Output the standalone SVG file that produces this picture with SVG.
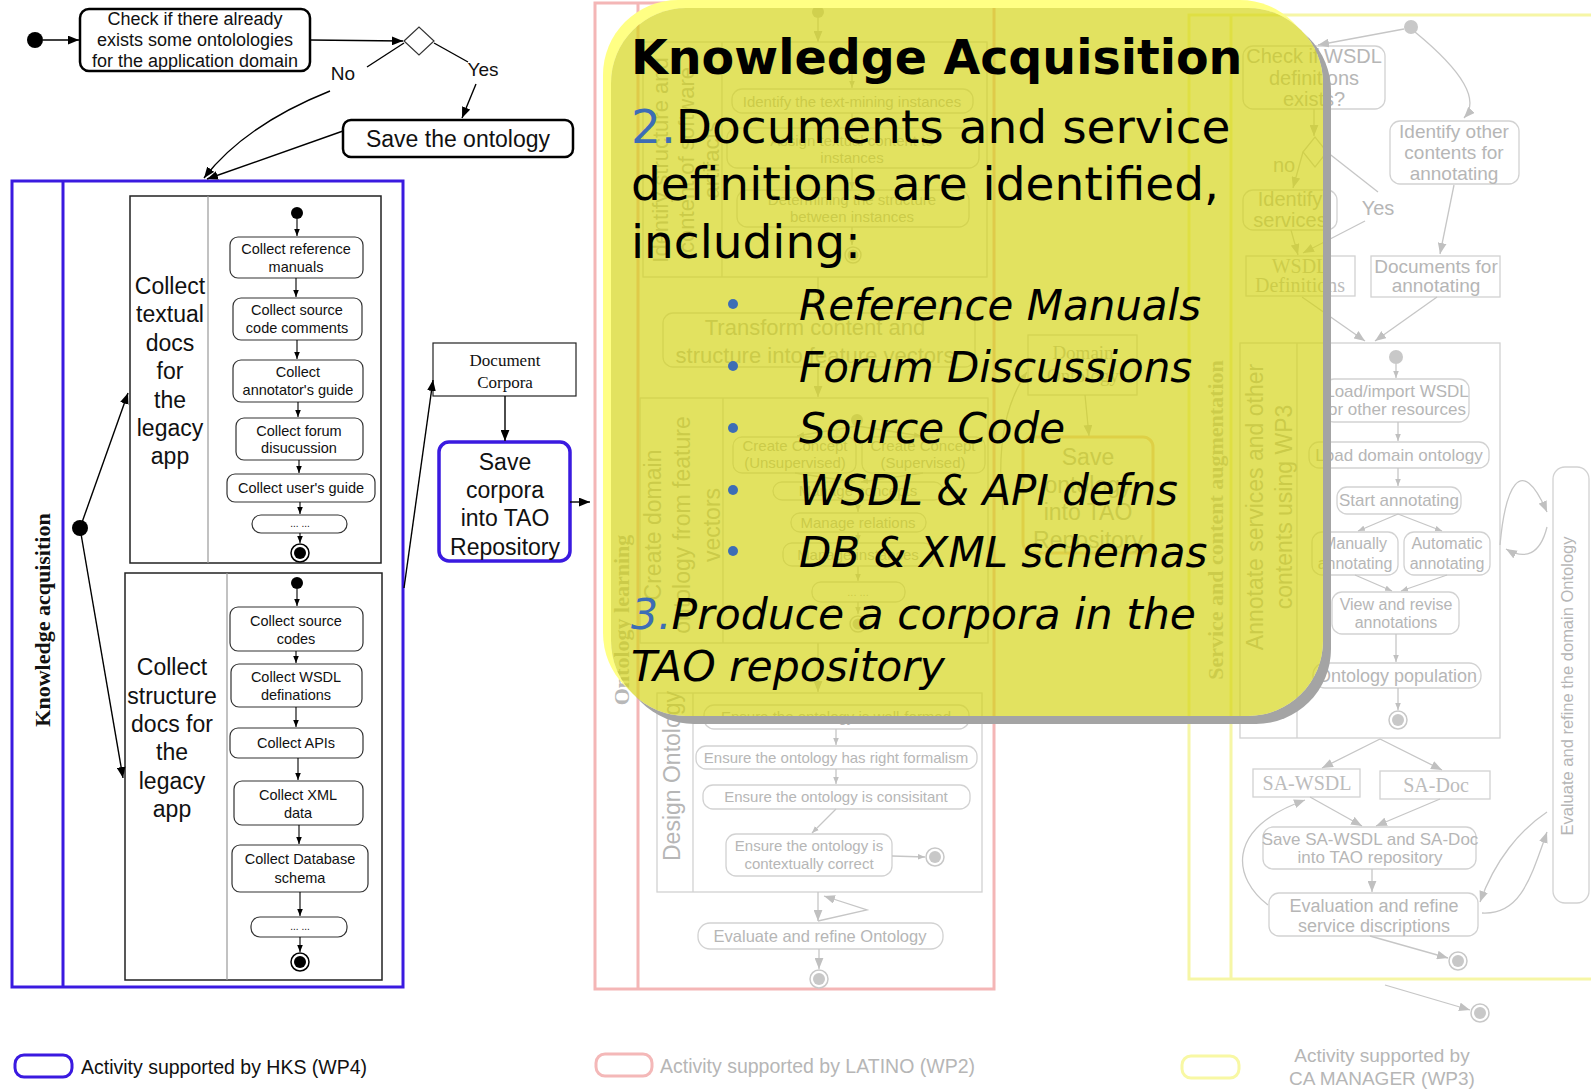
<svg xmlns="http://www.w3.org/2000/svg" width="1591" height="1089" viewBox="0 0 1591 1089">
<defs>
<style>
.t{font-family:"Liberation Sans",Arial,sans-serif;fill:#111}
.ser{font-family:"Liberation Serif","Times New Roman",serif}
.c{text-anchor:middle}
.box{fill:#fff;stroke:#333;stroke-width:1.2}
.ln{stroke:#000;stroke-width:1.4;fill:none}
.fx{font-family:"Liberation Sans",Arial,sans-serif;fill:#b6b6b6}
.fb{fill:none;stroke:#d2d2d2;stroke-width:1.3}
.lg{stroke:#c6c6c6;stroke-width:1.3;fill:none}
.ct{font-family:"DejaVu Sans",Verdana,sans-serif;fill:#000}
.blu{fill:#3d6db5}
</style>
<marker id="a" viewBox="0 0 10 8" markerWidth="11" markerHeight="9" refX="10" refY="4" orient="auto" markerUnits="userSpaceOnUse"><path d="M0,0 L10,4 L0,8 z" fill="#000"/></marker>
<marker id="as" viewBox="0 0 10 8" markerWidth="7" markerHeight="6" refX="10" refY="4" orient="auto" markerUnits="userSpaceOnUse"><path d="M0,0 L10,4 L0,8 z" fill="#000"/></marker>
<marker id="ag" viewBox="0 0 10 8" markerWidth="11" markerHeight="9" refX="10" refY="4" orient="auto" markerUnits="userSpaceOnUse"><path d="M0,0 L10,4 L0,8 z" fill="#c0c0c0"/></marker>
<marker id="ags" viewBox="0 0 10 8" markerWidth="7" markerHeight="6" refX="10" refY="4" orient="auto" markerUnits="userSpaceOnUse"><path d="M0,0 L10,4 L0,8 z" fill="#c0c0c0"/></marker>
<mask id="cm"><rect width="1591" height="1089" fill="#fff"/><path d="M686,8 H1248 A75 75 0 0 1 1323,83 V641 A75 75 0 0 1 1248,716 H686 A75 75 0 0 1 611,641 V83 A75 75 0 0 1 686,8 Z" fill="#000"/></mask>
</defs>
<rect width="1591" height="1089" fill="#fff"/>

<!-- ===== Left (HKS) diagram ===== -->
<g id="start1"><circle cx="35" cy="40" r="8" fill="#000"/></g>
<g id="check"><rect x="80" y="9" width="230" height="62" rx="9" fill="#fff" stroke="#000" stroke-width="2.5"/>
<text class="t c" font-size="18" x="195" y="25">Check if there already</text>
<text class="t c" font-size="18" x="195" y="46">exists some ontolologies</text>
<text class="t c" font-size="18" x="195" y="67">for the application domain</text></g>
<g id="decision1"><polygon points="404,41 419,27 434,41 419,55" fill="#fff" stroke="#333" stroke-width="1.2"/></g>
<g id="saveOnt"><rect x="343" y="120" width="230" height="37" rx="8" fill="#fff" stroke="#000" stroke-width="2.5"/>
<text class="t c" font-size="23" x="458" y="147">Save the ontology</text></g>

<g id="ka">
<rect x="12" y="181" width="391" height="806" fill="none" stroke="#3a1ae0" stroke-width="3"/>
<line x1="63" y1="181" x2="63" y2="987" stroke="#3a1ae0" stroke-width="3"/>
<text class="ser c" font-size="22" font-weight="bold" fill="#111" transform="translate(50,620) rotate(-90)">Knowledge acquisition</text>
</g>
<g id="fork1"><circle cx="80" cy="528" r="8" fill="#000"/></g>

<g id="lane1">
<rect x="130" y="196" width="251" height="367" fill="none" stroke="#222" stroke-width="1.5"/>
<line x1="208" y1="196" x2="208" y2="563" stroke="#999" stroke-width="1.2"/>
<text class="t c" font-size="23" x="170" y="294">Collect</text>
<text class="t c" font-size="23" x="170" y="322">textual</text>
<text class="t c" font-size="23" x="170" y="351">docs</text>
<text class="t c" font-size="23" x="170" y="379">for</text>
<text class="t c" font-size="23" x="170" y="408">the</text>
<text class="t c" font-size="23" x="170" y="436">legacy</text>
<text class="t c" font-size="23" x="170" y="464">app</text>
</g>
<g id="l1start"><circle cx="297" cy="213" r="6" fill="#000"/></g>
<g id="l1b1"><rect class="box" x="230" y="237" width="133" height="41" rx="8"/><text class="t c" font-size="14.5" x="296" y="254">Collect reference</text><text class="t c" font-size="14.5" x="296" y="272">manuals</text></g>
<g id="l1b2"><rect class="box" x="233" y="298" width="129" height="42" rx="8"/><text class="t c" font-size="14.5" x="297" y="315">Collect source</text><text class="t c" font-size="14.5" x="297" y="333">code comments</text></g>
<g id="l1b3"><rect class="box" x="233" y="360" width="130" height="42" rx="8"/><text class="t c" font-size="14.5" x="298" y="377">Collect</text><text class="t c" font-size="14.5" x="298" y="395">annotator's guide</text></g>
<g id="l1b4"><rect class="box" x="236" y="418" width="127" height="42" rx="8"/><text class="t c" font-size="14.5" x="299" y="436">Collect forum</text><text class="t c" font-size="14.5" x="299" y="453">disucussion</text></g>
<g id="l1b5"><rect class="box" x="227" y="474" width="148" height="28" rx="8"/><text class="t c" font-size="14.5" x="301" y="493">Collect user's guide</text></g>
<g id="l1b6"><rect class="box" x="252" y="515" width="95" height="18" rx="9"/><text class="t c" font-size="10" x="300" y="527">... ...</text></g>
<g id="l1end"><circle cx="300" cy="553" r="9" fill="#fff" stroke="#000" stroke-width="1.5"/><circle cx="300" cy="553" r="6" fill="#000"/></g>

<g id="lane2">
<rect x="125" y="573" width="257" height="407" fill="none" stroke="#222" stroke-width="1.5"/>
<line x1="227" y1="573" x2="227" y2="980" stroke="#999" stroke-width="1.2"/>
<text class="t c" font-size="23" x="172" y="675">Collect</text>
<text class="t c" font-size="23" x="172" y="704">structure</text>
<text class="t c" font-size="23" x="172" y="732">docs for</text>
<text class="t c" font-size="23" x="172" y="760">the</text>
<text class="t c" font-size="23" x="172" y="789">legacy</text>
<text class="t c" font-size="23" x="172" y="817">app</text>
</g>
<g id="l2start"><circle cx="297" cy="583" r="6" fill="#000"/></g>
<g id="l2b1"><rect class="box" x="230" y="607" width="133" height="44" rx="8"/><text class="t c" font-size="14.5" x="296" y="626">Collect source</text><text class="t c" font-size="14.5" x="296" y="644">codes</text></g>
<g id="l2b2"><rect class="box" x="231" y="664" width="131" height="43" rx="8"/><text class="t c" font-size="14.5" x="296" y="682">Collect WSDL</text><text class="t c" font-size="14.5" x="296" y="700">definations</text></g>
<g id="l2b3"><rect class="box" x="230" y="728" width="133" height="30" rx="8"/><text class="t c" font-size="14.5" x="296" y="748">Collect APIs</text></g>
<g id="l2b4"><rect class="box" x="234" y="781" width="129" height="44" rx="8"/><text class="t c" font-size="14.5" x="298" y="800">Collect XML</text><text class="t c" font-size="14.5" x="298" y="818">data</text></g>
<g id="l2b5"><rect class="box" x="232" y="845" width="136" height="47" rx="8"/><text class="t c" font-size="14.5" x="300" y="864">Collect Database</text><text class="t c" font-size="14.5" x="300" y="883">schema</text></g>
<g id="l2b6"><rect class="box" x="251" y="917" width="96" height="20" rx="9"/><text class="t c" font-size="10" x="300" y="930">... ...</text></g>
<g id="l2end"><circle cx="300" cy="962" r="9" fill="#fff" stroke="#000" stroke-width="1.5"/><circle cx="300" cy="962" r="6" fill="#000"/></g>

<g id="docCorpora"><rect x="433" y="343" width="143" height="53" fill="#fff" stroke="#222" stroke-width="1.2"/>
<text class="ser c" font-size="17" fill="#111" x="505" y="366">Document</text><text class="ser c" font-size="17" fill="#111" x="505" y="388">Corpora</text></g>
<g id="saveCorpora"><rect x="439" y="442" width="131" height="119" rx="10" fill="#fff" stroke="#3a1ae0" stroke-width="3.5"/>
<text class="t c" font-size="23" x="505" y="470">Save</text><text class="t c" font-size="23" x="505" y="498">corpora</text><text class="t c" font-size="23" x="505" y="526">into TAO</text><text class="t c" font-size="23" x="505" y="555">Repository</text></g>

<!-- ===== Middle (LATINO) faded diagram ===== -->
<g id="latino">
<rect x="595" y="3" width="399" height="986" fill="none" stroke="#f4b6b6" stroke-width="3"/>
<line x1="638" y1="3" x2="638" y2="989" stroke="#f4b6b6" stroke-width="3"/>
<text class="ser c" font-size="22" font-weight="bold" fill="#b8b8b8" transform="translate(629,620) rotate(-90)">Ontology learning</text>
</g>
<g id="p_lane1">
<rect class="fb" x="643" y="42" width="344" height="235"/>
<line class="fb" x1="722" y1="42" x2="722" y2="277"/>
<text class="fx c" font-size="22" transform="translate(668,160) rotate(-90)">Identify structure and</text>
<text class="fx c" font-size="22" transform="translate(694,160) rotate(-90)">content of software</text>
<text class="fx c" font-size="22" transform="translate(719,160) rotate(-90)">artifacts</text>
</g>
<g id="p_start"><circle cx="818" cy="12" r="6" fill="#c8c8c8"/></g>
<g id="p_b1"><rect class="fb" x="732" y="89" width="241" height="24" rx="10"/><text class="fx c" font-size="15" x="852" y="107">Identify the text-mining instances</text></g>
<g id="p_b2"><rect class="fb" x="727" y="128" width="252" height="40" rx="10"/><text class="fx c" font-size="15" x="852" y="146">Assign textual content to</text><text class="fx c" font-size="15" x="852" y="163">instances</text></g>
<g id="p_b3"><rect class="fb" x="737" y="190" width="232" height="37" rx="10"/><text class="fx c" font-size="15" x="852" y="205">Determining the structure</text><text class="fx c" font-size="15" x="852" y="222">between instances</text></g>
<g id="p_end1"><circle cx="853" cy="255" r="8" fill="#fff" stroke="#c8c8c8" stroke-width="1.5"/><circle cx="853" cy="255" r="5.5" fill="#c8c8c8"/></g>
<g id="p_transform"><rect class="fb" x="663" y="313" width="312" height="54" rx="10"/><text class="fx c" font-size="22" x="815" y="335">Transform content and</text><text class="fx c" font-size="22" x="815" y="363">structure into feature vectors</text></g>
<g id="p_lane2">
<rect class="fb" x="640" y="398" width="348" height="245"/>
<line class="fb" x1="723" y1="398" x2="723" y2="643"/>
<text class="fx c" font-size="23" transform="translate(661,525) rotate(-90)">Create domain</text>
<text class="fx c" font-size="23" transform="translate(690,525) rotate(-90)">ontology from feature</text>
<text class="fx c" font-size="23" transform="translate(720,525) rotate(-90)">vectors</text>
</g>
<g id="p_start2"><circle cx="857" cy="420" r="6" fill="#c8c8c8"/></g>
<g id="p_cu"><rect class="fb" x="733" y="437" width="123" height="36" rx="9"/><text class="fx c" font-size="15" x="795" y="451">Create Concept</text><text class="fx c" font-size="15" x="795" y="468">(Unsupervised)</text></g>
<g id="p_cs"><rect class="fb" x="862" y="437" width="123" height="36" rx="9"/><text class="fx c" font-size="15" x="923" y="451">Create Concept</text><text class="fx c" font-size="15" x="923" y="468">(Supervised)</text></g>
<g id="p_mc"><rect class="fb" x="773" y="482" width="170" height="18" rx="9"/><text class="fx c" font-size="15" x="858" y="496">Manage concepts</text></g>
<g id="p_mr"><rect class="fb" x="791" y="513" width="135" height="19" rx="9"/><text class="fx c" font-size="15" x="858" y="528">Manage relations</text></g>
<g id="p_mi"><rect class="fb" x="783" y="543" width="150" height="23" rx="9"/><text class="fx c" font-size="15" x="858" y="560">Manage instances</text></g>
<g id="p_dots"><rect class="fb" x="812" y="582" width="93" height="20" rx="9"/><text class="fx c" font-size="11" x="858" y="596">... ...</text></g>
<g id="p_end2"><circle cx="858" cy="624" r="8" fill="#fff" stroke="#c8c8c8" stroke-width="1.5"/><circle cx="858" cy="624" r="5.5" fill="#c8c8c8"/></g>
<g id="p_lane3">
<rect class="fb" x="657" y="693" width="325" height="199"/>
<line class="fb" x1="693" y1="693" x2="693" y2="892"/>
<text class="fx c" font-size="23" transform="translate(680,776) rotate(-90)">Design Ontology</text>
</g>
<g id="p_e1"><rect class="fb" x="704" y="705" width="265" height="24" rx="10"/><text class="fx c" font-size="15" x="836" y="722">Ensure the ontology is well-formed</text></g>
<g id="p_e2"><rect class="fb" x="696" y="746" width="281" height="23" rx="10"/><text class="fx c" font-size="15" x="836" y="763">Ensure the ontology has right formalism</text></g>
<g id="p_e3"><rect class="fb" x="703" y="785" width="267" height="24" rx="10"/><text class="fx c" font-size="15" x="836" y="802">Ensure the ontology is consisitant</text></g>
<g id="p_e4"><rect class="fb" x="726" y="834" width="166" height="42" rx="10"/><text class="fx c" font-size="15" x="809" y="851">Ensure the ontology is</text><text class="fx c" font-size="15" x="809" y="869">contextually correct</text></g>
<g id="p_end3"><circle cx="935" cy="857" r="9" fill="#fff" stroke="#c8c8c8" stroke-width="1.5"/><circle cx="935" cy="857" r="6" fill="#c8c8c8"/></g>
<g id="p_eval"><rect class="fb" x="698" y="923" width="245" height="26" rx="12"/><text class="fx c" font-size="16.5" x="820" y="942">Evaluate and refine Ontology</text></g>
<g id="p_end4"><circle cx="819" cy="979" r="9" fill="#fff" stroke="#c8c8c8" stroke-width="1.5"/><circle cx="819" cy="979" r="6" fill="#c8c8c8"/></g>
<g id="p_domain"><rect class="fb" x="1028" y="335" width="109" height="60"/><text class="ser c" font-size="19" fill="#b8b8b8" x="1083" y="359">Domain</text><text class="ser c" font-size="19" fill="#b8b8b8" x="1083" y="382">Ontology</text></g>
<g id="p_saveOnt"><rect x="1023" y="437" width="130" height="116" rx="10" fill="none" stroke="#f3c8ae" stroke-width="3"/>
<text class="fx c" font-size="23" x="1088" y="465">Save</text><text class="fx c" font-size="23" x="1088" y="493">ontology</text><text class="fx c" font-size="23" x="1088" y="520">into TAO</text><text class="fx c" font-size="23" x="1088" y="548">Repository</text></g>

<!-- ===== Right (CA MANAGER) faded diagram ===== -->
<g id="camanager">
<rect x="1189" y="15" width="430" height="964" fill="none" stroke="#f6f6a6" stroke-width="3"/>
<line x1="1231" y1="15" x2="1231" y2="979" stroke="#f6f6a6" stroke-width="3"/>
<text class="ser c" font-size="22" font-weight="bold" fill="#bcbcbc" transform="translate(1223,520) rotate(-90)">Service and content augmentation</text>
</g>
<g id="y_start"><circle cx="1411" cy="27" r="7" fill="#c8c8c8"/></g>
<g id="y_check"><rect class="fb" x="1243" y="46" width="142" height="63" rx="10"/><text class="fx c" font-size="20" x="1314" y="63">Check if WSDL</text><text class="fx c" font-size="20" x="1314" y="85">definitions</text><text class="fx c" font-size="20" x="1314" y="106">exists?</text></g>
<g id="y_dec"><polygon points="1303,152 1315,137 1327,152 1315,167" fill="none" stroke="#c8c8c8" stroke-width="1.3"/></g>
<g id="y_other"><rect class="fb" x="1390" y="121" width="129" height="63" rx="10"/><text class="fx c" font-size="19" x="1454" y="138">Identify other</text><text class="fx c" font-size="19" x="1454" y="159">contents for</text><text class="fx c" font-size="19" x="1454" y="180">annotating</text></g>
<g id="y_idserv"><rect class="fb" x="1243" y="190" width="94" height="40" rx="10"/><text class="fx c" font-size="20" x="1290" y="206">Identify</text><text class="fx c" font-size="20" x="1290" y="227">services</text></g>
<g id="y_wsdl"><rect class="fb" x="1246" y="256" width="109" height="40"/><text class="ser c" font-size="20" fill="#bcbcbc" x="1300" y="273">WSDL</text><text class="ser c" font-size="20" fill="#bcbcbc" x="1300" y="292">Definitions</text></g>
<g id="y_docs"><rect class="fb" x="1371" y="256" width="129" height="41"/><text class="fx c" font-size="19" x="1436" y="273">Documents for</text><text class="fx c" font-size="19" x="1436" y="292">annotating</text></g>
<g id="y_lane">
<rect class="fb" x="1240" y="343" width="260" height="395"/>
<line class="fb" x1="1297" y1="343" x2="1297" y2="738"/>
<text class="fx c" font-size="23" transform="translate(1263,507) rotate(-90)">Annotate services and other</text>
<text class="fx c" font-size="23" transform="translate(1292,507) rotate(-90)">contents using WP3</text>
</g>
<g id="y_start2"><circle cx="1396" cy="357" r="7" fill="#c8c8c8"/></g>
<g id="y_load"><rect class="fb" x="1324" y="379" width="145" height="43" rx="10"/><text class="fx c" font-size="17" x="1397" y="397">Load/import WSDL</text><text class="fx c" font-size="17" x="1397" y="415">or other resources</text></g>
<g id="y_lod"><rect class="fb" x="1309" y="442" width="180" height="26" rx="10"/><text class="fx c" font-size="17" x="1399" y="461">Load domain ontology</text></g>
<g id="y_sa"><rect class="fb" x="1337" y="487" width="124" height="27" rx="10"/><text class="fx c" font-size="17" x="1399" y="506">Start annotating</text></g>
<g id="y_man"><rect class="fb" x="1312" y="532" width="86" height="43" rx="10"/><text class="fx c" font-size="16" x="1355" y="549">Manually</text><text class="fx c" font-size="16" x="1355" y="569">annotating</text></g>
<g id="y_auto"><rect class="fb" x="1404" y="532" width="86" height="43" rx="10"/><text class="fx c" font-size="16" x="1447" y="549">Automatic</text><text class="fx c" font-size="16" x="1447" y="569">annotating</text></g>
<g id="y_view"><rect class="fb" x="1332" y="592" width="127" height="42" rx="10"/><text class="fx c" font-size="16" x="1396" y="610">View and revise</text><text class="fx c" font-size="16" x="1396" y="628">annotations</text></g>
<g id="y_pop"><rect class="fb" x="1313" y="663" width="168" height="25" rx="12"/><text class="fx c" font-size="18" x="1397" y="682">Ontology population</text></g>
<g id="y_end1"><circle cx="1398" cy="720" r="9" fill="#fff" stroke="#c8c8c8" stroke-width="1.5"/><circle cx="1398" cy="720" r="6" fill="#c8c8c8"/></g>
<g id="y_sawsdl"><rect class="fb" x="1253" y="769" width="107" height="28"/><text class="ser c" font-size="20" fill="#bcbcbc" x="1307" y="790">SA-WSDL</text></g>
<g id="y_sadoc"><rect class="fb" x="1380" y="771" width="110" height="28"/><text class="ser c" font-size="20" fill="#bcbcbc" x="1436" y="792">SA-Doc</text></g>
<g id="y_save"><rect class="fb" x="1263" y="827" width="213" height="42" rx="10"/><text class="fx c" font-size="17" x="1370" y="845">Save SA-WSDL and SA-Doc</text><text class="fx c" font-size="17" x="1370" y="863">into TAO repository</text></g>
<g id="y_evalserv"><rect class="fb" x="1269" y="893" width="209" height="43" rx="10"/><text class="fx c" font-size="18" x="1374" y="912">Evaluation and refine</text><text class="fx c" font-size="18" x="1374" y="932">service discriptions</text></g>
<g id="y_end2"><circle cx="1458" cy="961" r="9" fill="#fff" stroke="#c8c8c8" stroke-width="1.5"/><circle cx="1458" cy="961" r="6" fill="#c8c8c8"/></g>
<g id="y_end3"><circle cx="1480" cy="1013" r="9" fill="#fff" stroke="#c8c8c8" stroke-width="1.5"/><circle cx="1480" cy="1013" r="6" fill="#c8c8c8"/></g>
<g id="y_evaldom"><rect class="fb" x="1553" y="467" width="36" height="436" rx="12"/><text class="fx c" font-size="16.5" transform="translate(1573,686) rotate(-90)">Evaluate and refine the domain Ontology</text></g>

<!-- ===== Connectors ===== -->
<g id="connectors">
<line class="ln" x1="43" y1="40" x2="79" y2="40" marker-end="url(#a)"/>
<line class="ln" x1="310" y1="40" x2="403" y2="41" marker-end="url(#a)"/>
<path class="ln" d="M404,43 L367,67"/>
<path class="ln" d="M330,91 Q245,125 204,178" marker-end="url(#a)"/>
<path class="ln" d="M434,43 L468,62"/>
<path class="ln" d="M476,84 L462,118" marker-end="url(#a)"/>
<path class="ln" d="M343,131 L207,179" marker-end="url(#a)"/>
<line class="ln" x1="80" y1="528" x2="128" y2="393" marker-end="url(#a)"/>
<line class="ln" x1="80" y1="528" x2="123" y2="778" marker-end="url(#a)"/>
<line class="ln" x1="404" y1="588" x2="433" y2="380" marker-end="url(#a)"/>
<line class="ln" x1="505" y1="396" x2="505" y2="441" marker-end="url(#a)"/>
<line class="ln" x1="570" y1="502" x2="590" y2="502" marker-end="url(#a)"/>
<g stroke="#000" stroke-width="1.1">
<line x1="297" y1="219" x2="297" y2="236" marker-end="url(#as)"/>
<line x1="296" y1="278" x2="296" y2="297" marker-end="url(#as)"/>
<line x1="297" y1="340" x2="297" y2="359" marker-end="url(#as)"/>
<line x1="298" y1="402" x2="298" y2="417" marker-end="url(#as)"/>
<line x1="299" y1="460" x2="299" y2="473" marker-end="url(#as)"/>
<line x1="300" y1="502" x2="300" y2="514" marker-end="url(#as)"/>
<line x1="300" y1="533" x2="300" y2="543" marker-end="url(#as)"/>
<line x1="297" y1="589" x2="297" y2="606" marker-end="url(#as)"/>
<line x1="296" y1="651" x2="296" y2="663" marker-end="url(#as)"/>
<line x1="296" y1="707" x2="296" y2="727" marker-end="url(#as)"/>
<line x1="298" y1="758" x2="298" y2="780" marker-end="url(#as)"/>
<line x1="299" y1="825" x2="299" y2="844" marker-end="url(#as)"/>
<line x1="300" y1="892" x2="300" y2="916" marker-end="url(#as)"/>
<line x1="300" y1="937" x2="300" y2="952" marker-end="url(#as)"/>
</g>
<g class="lg">
<line x1="818" y1="18" x2="818" y2="42" marker-end="url(#ag)"/>
<line x1="852" y1="62" x2="852" y2="88" marker-end="url(#ags)"/>
<line x1="852" y1="113" x2="852" y2="127" marker-end="url(#ags)"/>
<line x1="852" y1="168" x2="852" y2="189" marker-end="url(#ags)"/>
<line x1="852" y1="227" x2="852" y2="245" marker-end="url(#ags)"/>
<line x1="818" y1="277" x2="818" y2="312" marker-end="url(#ag)"/>
<line x1="818" y1="367" x2="818" y2="397" marker-end="url(#ag)"/>
<line x1="857" y1="426" x2="797" y2="436" marker-end="url(#ags)"/>
<line x1="857" y1="426" x2="921" y2="436" marker-end="url(#ags)"/>
<line x1="795" y1="473" x2="855" y2="482" marker-end="url(#ags)"/>
<line x1="923" y1="473" x2="861" y2="482" marker-end="url(#ags)"/>
<line x1="858" y1="500" x2="858" y2="512" marker-end="url(#ags)"/>
<line x1="858" y1="532" x2="858" y2="542" marker-end="url(#ags)"/>
<line x1="858" y1="566" x2="858" y2="581" marker-end="url(#ags)"/>
<line x1="858" y1="602" x2="858" y2="614" marker-end="url(#ags)"/>
<line x1="818" y1="643" x2="818" y2="692" marker-end="url(#ag)"/>
<line x1="836" y1="729" x2="836" y2="745" marker-end="url(#ags)"/>
<line x1="836" y1="769" x2="836" y2="784" marker-end="url(#ags)"/>
<line x1="836" y1="809" x2="812" y2="833" marker-end="url(#ags)"/>
<line x1="892" y1="856" x2="925" y2="857" marker-end="url(#ags)"/>
<line x1="818" y1="892" x2="818" y2="921" marker-end="url(#ag)"/>
<path d="M818,921 L867,910 L824,896" marker-end="url(#ag)"/>
<line x1="819" y1="949" x2="819" y2="969" marker-end="url(#ag)"/>
<path d="M1003,510 Q993,420 1027,372" marker-end="url(#ag)"/>
<line x1="1085" y1="395" x2="1089" y2="436" marker-end="url(#ag)"/>
<line x1="1404" y1="29" x2="1318" y2="45" marker-end="url(#ag)"/>
<path d="M1415,32 Q1488,92 1464,118" marker-end="url(#ag)"/>
<line x1="1314" y1="109" x2="1314" y2="136" marker-end="url(#ag)"/>
<line x1="1303" y1="152" x2="1293" y2="188" marker-end="url(#ag)"/>
<path d="M1327,152 L1378,192"/>
<line x1="1365" y1="221" x2="1303" y2="253" marker-end="url(#ag)"/>
<line x1="1291" y1="230" x2="1298" y2="255" marker-end="url(#ag)"/>
<line x1="1454" y1="185" x2="1440" y2="254" marker-end="url(#ag)"/>
<line x1="1302" y1="297" x2="1365" y2="341" marker-end="url(#ag)"/>
<line x1="1437" y1="297" x2="1375" y2="341" marker-end="url(#ag)"/>
<line x1="1396" y1="364" x2="1396" y2="378" marker-end="url(#ags)"/>
<line x1="1398" y1="422" x2="1398" y2="441" marker-end="url(#ags)"/>
<line x1="1398" y1="468" x2="1398" y2="486" marker-end="url(#ags)"/>
<line x1="1398" y1="514" x2="1358" y2="531" marker-end="url(#ags)"/>
<line x1="1398" y1="514" x2="1442" y2="531" marker-end="url(#ags)"/>
<line x1="1355" y1="575" x2="1392" y2="591" marker-end="url(#ags)"/>
<line x1="1447" y1="575" x2="1401" y2="591" marker-end="url(#ags)"/>
<line x1="1396" y1="634" x2="1396" y2="662" marker-end="url(#ags)"/>
<line x1="1398" y1="688" x2="1398" y2="710" marker-end="url(#ags)"/>
<line x1="1380" y1="739" x2="1322" y2="768" marker-end="url(#ag)"/>
<line x1="1380" y1="739" x2="1442" y2="770" marker-end="url(#ag)"/>
<line x1="1310" y1="797" x2="1362" y2="826" marker-end="url(#ag)"/>
<line x1="1440" y1="799" x2="1376" y2="826" marker-end="url(#ag)"/>
<line x1="1372" y1="869" x2="1372" y2="892" marker-end="url(#ag)"/>
<path d="M1268,905 C1235,880 1222,830 1305,800" marker-end="url(#ag)"/>
<line x1="1370" y1="936" x2="1448" y2="958" marker-end="url(#ag)"/>
<line x1="1385" y1="985" x2="1470" y2="1010" marker-end="url(#ag)"/>
<path d="M1500,545 C1505,490 1520,450 1547,512" marker-end="url(#ag)"/>
<path d="M1547,527 C1540,555 1525,560 1506,549" marker-end="url(#ag)"/>
<path d="M1547,812 C1520,830 1495,860 1480,902" marker-end="url(#ag)"/>
<path d="M1482,913 C1520,915 1530,880 1547,832" marker-end="url(#ag)"/>
</g>
<text class="t c" font-size="19" x="343" y="80">No</text>
<text class="t c" font-size="19" x="483" y="76">Yes</text>
<text class="fx c" font-size="20" x="1284" y="172">no</text>
<text class="fx c" font-size="20" x="1378" y="215">Yes</text>
</g>

<!-- ===== Legend ===== -->
<g id="legend">
<rect x="15" y="1055" width="57" height="22" rx="9" fill="none" stroke="#3a1ae0" stroke-width="3"/>
<text class="t" font-size="19.5" x="81" y="1074">Activity supported by HKS (WP4)</text>
<rect x="596" y="1054" width="56" height="22" rx="9" fill="none" stroke="#f4b8b8" stroke-width="3"/>
<text class="fx" font-size="19.5" x="660" y="1073">Activity supported by LATINO (WP2)</text>
<rect x="1182" y="1056" width="57" height="22" rx="9" fill="none" stroke="#f8f8a4" stroke-width="3"/>
<text class="fx c" font-size="19" x="1382" y="1062">Activity supported by</text>
<text class="fx c" font-size="19" x="1382" y="1085">CA MANAGER (WP3)</text>
</g>

<!-- ===== Callout ===== -->
<g id="callout">
<path mask="url(#cm)" d="M694,16 H1256 A75 75 0 0 1 1331,91 V649 A75 75 0 0 1 1256,724 H694 A75 75 0 0 1 619,649 V91 A75 75 0 0 1 694,16 Z" fill="#a4a4a4"/>
<path mask="url(#cm)" d="M678,0 H1240 A75 75 0 0 1 1315,75 V633 A75 75 0 0 1 1240,708 H678 A75 75 0 0 1 603,633 V75 A75 75 0 0 1 678,0 Z" fill="#ffff84"/>
<path d="M686,8 H1248 A75 75 0 0 1 1323,83 V641 A75 75 0 0 1 1248,716 H686 A75 75 0 0 1 611,641 V83 A75 75 0 0 1 686,8 Z" fill="#d4d414" fill-opacity="0.68"/>
<text class="ct" font-size="47.5" font-weight="bold" x="631" y="74">Knowledge Acquisition</text>
<text class="ct" font-size="47" x="631" y="143"><tspan class="blu">2.</tspan>Documents and service</text>
<text class="ct" font-size="47" x="631" y="200">definitions are identified,</text>
<text class="ct" font-size="47" x="631" y="258">including:</text>
<g class="blu"><circle cx="733" cy="304" r="5"/><circle cx="733" cy="366" r="5"/><circle cx="733" cy="428" r="5"/><circle cx="733" cy="490" r="5"/><circle cx="733" cy="551" r="5"/></g>
<text class="ct" font-size="42" font-style="italic" x="799" y="320">Reference Manuals</text>
<text class="ct" font-size="42" font-style="italic" x="799" y="382">Forum Discussions</text>
<text class="ct" font-size="42" font-style="italic" x="799" y="443">Source Code</text>
<text class="ct" font-size="42" font-style="italic" x="799" y="505">WSDL &amp; API defns</text>
<text class="ct" font-size="42" font-style="italic" x="799" y="567">DB &amp; XML schemas</text>
<text class="ct" font-size="42.5" font-style="italic" x="631" y="629"><tspan class="blu">3.</tspan>Produce a corpora in the</text>
<text class="ct" font-size="42.5" font-style="italic" x="631" y="681">TAO repository</text>
</g>
</svg>
